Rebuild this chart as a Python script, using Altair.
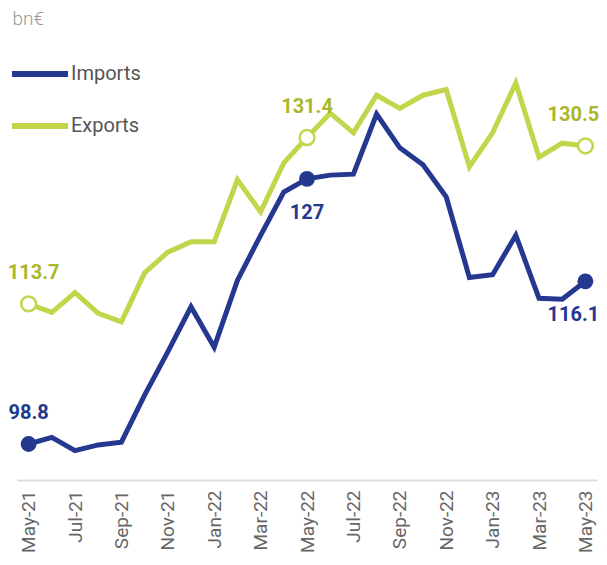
import altair as alt
import pandas as pd

months = ["May-21", "Jun-21", "Jul-21", "Aug-21", "Sep-21", "Oct-21", "Nov-21", "Dec-21",
          "Jan-22", "Feb-22", "Mar-22", "Apr-22", "May-22", "Jun-22", "Jul-22", "Aug-22",
          "Sep-22", "Oct-22", "Nov-22", "Dec-22", "Jan-23", "Feb-23", "Mar-23", "Apr-23", "May-23"]
imports = [98.8, 99.5, 98.1, 98.7, 99.0, 104.0, 108.6, 113.4, 109.1, 116.2, 121.0, 125.6, 127.0,
           127.4, 127.5, 133.9, 130.3, 128.5, 125.1, 116.5, 116.8, 121.0, 114.3, 114.2, 116.1]
exports = [113.7, 112.8, 114.9, 112.7, 111.8, 117.0, 119.2, 120.3, 120.3, 126.9, 123.5, 128.7, 131.4,
           134.0, 131.9, 135.9, 134.5, 135.9, 136.5, 128.3, 131.9, 137.2, 129.3, 130.8, 130.5]
series = ["Imports", "Exports"]
tick_months = months[::2]
marked_months = ["May-21", "May-22", "May-23"]
imports_below = ["May-22", "May-23"]

BLUE = "#24388f"
GREEN = "#c2d54b"
GREEN_TEXT = "#a9b72b"

rows = []
for m, v in zip(months, imports):
    rows.append({"month": m, "series": "Imports", "value": v})
for m, v in zip(months, exports):
    rows.append({"month": m, "series": "Exports", "value": v})
df = pd.DataFrame(rows)
df["text"] = df["value"].map(lambda v: f"{v:g}")
df["marked"] = df["month"].isin(marked_months)
df["below"] = (df["series"] == "Imports") & df["month"].isin(imports_below)
# small horizontal nudges so edge labels stay inside the page
df["nudge"] = 0
df.loc[(df["month"] == "May-21") & (df["series"] == "Exports"), "nudge"] = 5
df.loc[df["month"] == "May-23", "nudge"] = -12

x = alt.X("month:N", sort=months,
          scale=alt.Scale(type="point", padding=0.5),
          axis=alt.Axis(values=tick_months, title=None, labelAngle=270, ticks=False,
                        labelPadding=10, labelFont="Roboto", labelFontSize=19,
                        labelColor="#666666", domainColor="#dddddd", domainWidth=2,
                        grid=False))
y = alt.Y("value:Q",
          scale=alt.Scale(domain=[94.97, 143.9], nice=False, zero=False),
          axis=alt.Axis(title="bn€", titleAngle=0, titleX=-5, titleY=4, titleAlign="left",
                        titleBaseline="alphabetic", titleFont="Roboto", titleFontSize=19,
                        titleFontWeight=300, titleColor="#9a9a9a", labels=False,
                        ticks=False, domain=False, grid=False))

base = alt.Chart(df).encode(x=x, y=y)

lines = base.mark_line(strokeWidth=5).encode(
    color=alt.Color("series:N", sort=series,
                    scale=alt.Scale(domain=series, range=[BLUE, GREEN]),
                    legend=alt.Legend(orient="none", legendX=-8, legendY=23, direction="vertical",
                                      symbolType="stroke", symbolSize=3136, symbolStrokeWidth=6,
                                      labelFont="Roboto", labelFontSize=20, labelColor="#555555",
                                      labelOffset=0, rowPadding=9, title=None))
)

imp_pts = base.transform_filter(
    (alt.datum.series == "Imports") & alt.datum.marked
).mark_circle(size=250, color=BLUE, opacity=1)

exp_pts = base.transform_filter(
    (alt.datum.series == "Exports") & alt.datum.marked
).mark_circle(size=220, color="white", stroke=GREEN, strokeWidth=2.5, opacity=1)

txt = dict(font="Roboto", fontWeight="bold", fontSize=20, baseline="alphabetic", align="center")
nudge = alt.XOffset("nudge:Q", scale=None)

exp_txt = base.transform_filter(
    (alt.datum.series == "Exports") & alt.datum.marked
).mark_text(color=GREEN_TEXT, dy=-25, **txt).encode(text="text:N", xOffset=nudge)

imp_above = base.transform_filter(
    (alt.datum.series == "Imports") & alt.datum.marked & ~alt.datum.below
).mark_text(color=BLUE, dy=-25, **txt).encode(text="text:N", xOffset=nudge)

imp_below = base.transform_filter(
    (alt.datum.series == "Imports") & alt.datum.marked & alt.datum.below
).mark_text(color=BLUE, dy=40, **txt).encode(text="text:N", xOffset=nudge)

chart = alt.layer(lines, imp_pts, exp_pts, exp_txt, imp_above, imp_below).properties(
    width=580, height=460,
    autosize=alt.AutoSizeParams(type="none"),
    padding={"left": 9, "top": 12, "right": 2, "bottom": 74},
).configure_view(stroke=None)

chart.save("out.html", embed_options={"renderer": "svg", "actions": False})
